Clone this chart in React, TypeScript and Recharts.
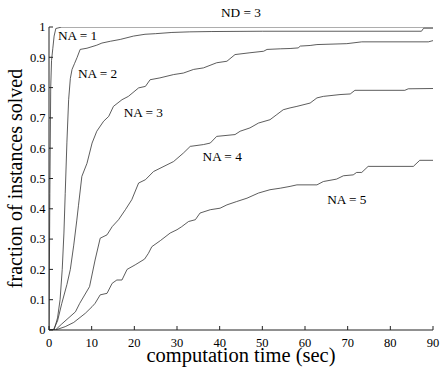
import React from 'react';
import { LineChart, Line, XAxis, YAxis, ReferenceDot, Label } from 'recharts';

// ---- data ----
const xTicks = [0, 10, 20, 30, 40, 50, 60, 70, 80, 90];
const yTicks = [0, 0.1, 0.2, 0.3, 0.4, 0.5, 0.6, 0.7, 0.8, 0.9, 1];

const na1Time = [0, 0.2, 0.4, 0.6, 0.9, 1.2, 1.6, 3, 90];
const na1Frac = [0, 0.45, 0.8, 0.89, 0.93, 0.97, 0.995, 1.0, 1.0];

const na2Time = [0, 1.2, 2.0, 2.6, 3.1, 3.5, 3.8, 4.2, 4.6, 5.0, 5.4, 6.0, 6.6, 7.3, 8.9, 11.2, 12.4, 14.4, 16.7, 19.8, 22.5, 25.0, 28.8, 33.0, 38.0, 50.0, 87.3, 87.8, 90];
const na2Frac = [0, 0, 0.04, 0.1, 0.2, 0.32, 0.45, 0.62, 0.76, 0.83, 0.86, 0.88, 0.9, 0.926, 0.93, 0.94, 0.947, 0.953, 0.959, 0.97, 0.976, 0.978, 0.982, 0.984, 0.985, 0.986, 0.986, 0.996, 0.996];

const na3Time = [0, 1.0, 2.0, 3.0, 4.2, 5.0, 5.8, 6.5, 6.9, 7.7, 8.9, 10.1, 11.2, 12.8, 14.0, 15.1, 17.1, 18.6, 21.0, 22.6, 23.7, 26.0, 29.2, 31.5, 33.9, 36.2, 39.3, 41.7, 43.6, 47.1, 50.3, 51.1, 54.2, 56.5, 58.4, 58.9, 61.2, 62.8, 69.8, 73.3, 88.9, 90];
const na3Frac = [0, 0, 0.03, 0.088, 0.15, 0.2, 0.28, 0.36, 0.41, 0.507, 0.55, 0.617, 0.656, 0.689, 0.705, 0.738, 0.76, 0.771, 0.799, 0.804, 0.826, 0.832, 0.843, 0.848, 0.86, 0.865, 0.882, 0.887, 0.909, 0.915, 0.92, 0.926, 0.928, 0.929, 0.931, 0.937, 0.939, 0.942, 0.945, 0.951, 0.951, 0.955];

const na4Time = [0, 1.5, 3.0, 6.2, 7.2, 9.5, 10.8, 12.0, 13.6, 14.8, 16.3, 17.9, 19.4, 21.0, 22.6, 24.5, 29.2, 31.5, 33.1, 36.2, 37.8, 39.3, 43.6, 44.8, 47.1, 49.1, 51.8, 53.4, 54.9, 56.5, 58.1, 61.2, 62.8, 64.3, 68.2, 70.6, 71.7, 83.4, 84.2, 90];
const na4Frac = [0, 0, 0.02, 0.06, 0.088, 0.143, 0.231, 0.303, 0.314, 0.341, 0.364, 0.397, 0.43, 0.485, 0.496, 0.523, 0.556, 0.584, 0.606, 0.612, 0.617, 0.639, 0.645, 0.656, 0.667, 0.683, 0.694, 0.711, 0.727, 0.733, 0.738, 0.749, 0.766, 0.771, 0.777, 0.779, 0.791, 0.791, 0.796, 0.797];

const na5Time = [0, 1.5, 3.8, 5.8, 8.5, 10.1, 10.8, 12.0, 13.6, 14.8, 15.9, 17.1, 18.3, 20.2, 22.4, 23.3, 24.1, 26.1, 28.4, 30.0, 31.1, 32.7, 34.3, 35.4, 37.8, 40.1, 41.7, 44.0, 46.4, 49.1, 51.8, 54.2, 56.5, 58.1, 62.8, 64.3, 67.4, 69.0, 71.3, 72.1, 73.3, 74.8, 85.4, 86.9, 90];
const na5Frac = [0, 0, 0.011, 0.025, 0.055, 0.077, 0.088, 0.116, 0.121, 0.154, 0.165, 0.165, 0.2, 0.215, 0.234, 0.253, 0.275, 0.295, 0.32, 0.331, 0.341, 0.358, 0.364, 0.386, 0.397, 0.402, 0.413, 0.424, 0.435, 0.452, 0.463, 0.468, 0.474, 0.479, 0.479, 0.49, 0.498, 0.509, 0.512, 0.52, 0.52, 0.54, 0.54, 0.56, 0.56];

const seriesNames = ['NA = 1', 'NA = 2', 'NA = 3', 'NA = 4', 'NA = 5'];
const labelX = [6.7, 11.4, 22.1, 40.6, 69.8];
const labelY = [0.972, 0.846, 0.718, 0.574, 0.432];

const title = 'ND = 3';
const xTitle = 'computation time (sec)';
const yTitle = 'fraction of instances solved';

const build = (xs: number[], ys: number[]) => xs.map((x, i) => ({ x, y: ys[i] }));
const series = [
  build(na1Time, na1Frac),
  build(na2Time, na2Frac),
  build(na3Time, na3Frac),
  build(na4Time, na4Frac),
  build(na5Time, na5Frac),
];

// ---- layout ----
const W = 443;
const H = 370;
const M_TOP = 27;
const M_RIGHT = 10;
const Y_AXIS_W = 49;
const X_AXIS_H = 40;
const PLOT_TOP = M_TOP;
const PLOT_BOTTOM = H - X_AXIS_H;
const PLOT_LEFT = Y_AXIS_W;
const PLOT_RIGHT = W - M_RIGHT;
const TICK_LEN = 4;
const FONT = "'Liberation Serif', 'Times New Roman', serif";
const FRAME = '#222';
const CURVE = '#333';
const tickTextStyle = { fontFamily: FONT, fontSize: 12.5, fill: '#000' } as const;

const BottomTick = (props: any) => {
  const { x, payload } = props;
  return (
    <g>
      <line x1={x} x2={x} y1={PLOT_BOTTOM} y2={PLOT_BOTTOM - TICK_LEN} stroke={FRAME} strokeWidth={1} />
      <text x={x} y={PLOT_BOTTOM + 16.5} textAnchor="middle" style={tickTextStyle}>
        {payload.value}
      </text>
    </g>
  );
};

const TopTick = (props: any) => {
  const { x } = props;
  return <line x1={x} x2={x} y1={PLOT_TOP} y2={PLOT_TOP + TICK_LEN} stroke={FRAME} strokeWidth={1} />;
};

const LeftTick = (props: any) => {
  const { y, payload } = props;
  return (
    <g>
      <line x1={PLOT_LEFT} x2={PLOT_LEFT + TICK_LEN} y1={y} y2={y} stroke={FRAME} strokeWidth={1} />
      <text x={PLOT_LEFT - 3.5} y={y + 4.3} textAnchor="end" style={tickTextStyle}>
        {payload.value}
      </text>
    </g>
  );
};

const RightTick = (props: any) => {
  const { y } = props;
  return <line x1={PLOT_RIGHT} x2={PLOT_RIGHT - TICK_LEN} y1={y} y2={y} stroke={FRAME} strokeWidth={1} />;
};

export default function App() {
  return (
    <div style={{ position: 'absolute', left: 0, top: 0, width: W, height: H, background: '#fff' }}>
      <LineChart width={W} height={H} margin={{ top: M_TOP, right: M_RIGHT, bottom: 0, left: 0 }}>
        <XAxis
          xAxisId="bottom"
          type="number"
          dataKey="x"
          domain={[0, 90]}
          ticks={xTicks}
          allowDataOverflow
          height={X_AXIS_H}
          tickLine={false}
          axisLine={{ stroke: FRAME, strokeWidth: 1 }}
          tick={BottomTick}
          interval={0}
        >
          <Label
            value={xTitle}
            position="insideBottom"
            offset={8.5}
            style={{ fontFamily: FONT, fontSize: 20.5, fill: '#000' }}
          />
        </XAxis>
        <XAxis
          xAxisId="top"
          orientation="top"
          type="number"
          dataKey="x"
          domain={[0, 90]}
          ticks={xTicks}
          allowDataOverflow
          height={0}
          tickLine={false}
          axisLine={{ stroke: FRAME, strokeWidth: 1 }}
          tick={TopTick}
          interval={0}
        />
        <YAxis
          yAxisId="left"
          type="number"
          domain={[0, 1]}
          ticks={yTicks}
          allowDataOverflow
          width={Y_AXIS_W}
          tickLine={false}
          axisLine={{ stroke: FRAME, strokeWidth: 1 }}
          tick={LeftTick}
          interval={0}
        >
          <Label
            value={yTitle}
            angle={-90}
            position="insideLeft"
            offset={15}
            style={{ fontFamily: FONT, fontSize: 20, fill: '#000', textAnchor: 'middle' }}
          />
        </YAxis>
        <YAxis
          yAxisId="right"
          orientation="right"
          type="number"
          domain={[0, 1]}
          ticks={yTicks}
          allowDataOverflow
          width={0}
          tickLine={false}
          axisLine={{ stroke: FRAME, strokeWidth: 1 }}
          tick={RightTick}
          interval={0}
        />
        {series.map((d, i) => (
          <Line
            key={seriesNames[i]}
            xAxisId="bottom"
            yAxisId="left"
            data={d}
            dataKey="y"
            type="linear"
            stroke={CURVE}
            strokeWidth={0.8}
            dot={false}
            activeDot={false}
            isAnimationActive={false}
          />
        ))}
        {seriesNames.map((n, i) => (
          <ReferenceDot
            key={'lbl' + n}
            xAxisId="bottom"
            yAxisId="left"
            x={labelX[i]}
            y={labelY[i]}
            r={0}
            stroke="none"
            fill="none"
            label={{ value: n, position: 'center', fontFamily: FONT, fontSize: 13.3, fill: '#000' }}
          />
        ))}
        <ReferenceDot
          xAxisId="bottom"
          yAxisId="left"
          x={45}
          y={1}
          r={0}
          stroke="none"
          fill="none"
          label={{ value: title, position: 'top', offset: 9.7, fontFamily: FONT, fontSize: 13.3, fill: '#000' }}
        />
      </LineChart>
    </div>
  );
}
